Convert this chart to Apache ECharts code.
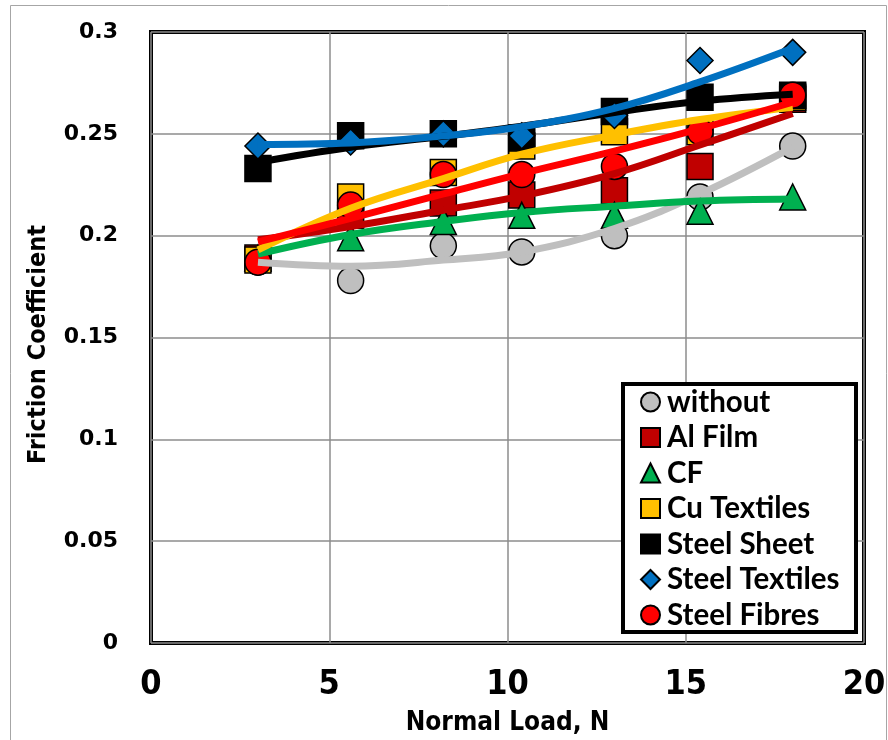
<!DOCTYPE html>
<html>
<head>
<meta charset="utf-8">
<script src="https://cdn.jsdelivr.net/npm/echarts@6/dist/echarts.min.js"></script>
<style>
  html, body { margin: 0; padding: 0; background: #fff; }
  #chart { width: 888px; height: 740px; }
</style>
</head>
<body>
<div id="chart"></div>
<script>
// Normal load (N) at which each friction measurement was taken
const loads = [3, 5.6, 8.2, 10.4, 13, 15.4, 18];

// Measured friction coefficients per interlayer
const withoutVals        = [0.187, 0.178, 0.195, 0.192, 0.200, 0.219, 0.244];
const alFilmVals         = [0.189, 0.210, 0.216, 0.220, 0.222, 0.234, 0.267];
const cfVals             = [0.189, 0.199, 0.207, 0.210, 0.210, 0.212, 0.219];
const cuTextilesVals     = [0.188, 0.219, 0.231, 0.244, 0.251, 0.251, 0.268];
const steelSheetVals     = [0.233, 0.249, 0.250, 0.248, 0.261, 0.268, 0.269];
const steelTextilesVals  = [0.244, 0.246, 0.250, 0.249, 0.259, 0.286, 0.290];
const steelFibresVals    = [0.187, 0.215, 0.230, 0.230, 0.234, 0.251, 0.269];

// Second-order trend curves for each interlayer, at the same loads
const withoutTrend       = [0.187, 0.185, 0.188, 0.192, 0.2035, 0.2205, 0.2435];
const alFilmTrend        = [0.198, 0.2045, 0.2125, 0.2195, 0.2305, 0.2445, 0.260];
const cfTrend            = [0.191, 0.2006, 0.207, 0.2114, 0.2145, 0.217, 0.218];
const cuTextilesTrend    = [0.193, 0.2135, 0.228, 0.240, 0.2495, 0.257, 0.263];
const steelSheetTrend    = [0.236, 0.2434, 0.2488, 0.2537, 0.2605, 0.266, 0.2694];
const steelTextilesTrend = [0.2448, 0.2455, 0.249, 0.2535, 0.2625, 0.2755, 0.292];
const steelFibresTrend   = [0.197, 0.2085, 0.2205, 0.2305, 0.2415, 0.2525, 0.2655];

// Axis tick values
const xTicks = [0, 5, 10, 15, 20];
const yTicks = [0, 0.05, 0.1, 0.15, 0.2, 0.25, 0.3];

const groups = [
  { name: 'without',        color: '#BFBFBF', symbol: 'circle',   vals: withoutVals,       trend: withoutTrend },
  { name: 'Al Film',        color: '#C00000', symbol: 'rect',     vals: alFilmVals,        trend: alFilmTrend },
  { name: 'CF',             color: '#00B050', symbol: 'triangle', vals: cfVals,            trend: cfTrend },
  { name: 'Cu Textiles',    color: '#FFC000', symbol: 'rect',     vals: cuTextilesVals,    trend: cuTextilesTrend },
  { name: 'Steel Sheet',    color: '#000000', symbol: 'rect',     vals: steelSheetVals,    trend: steelSheetTrend },
  { name: 'Steel Textiles', color: '#0070C0', symbol: 'diamond',  vals: steelTextilesVals, trend: steelTextilesTrend },
  { name: 'Steel Fibres',   color: '#FF0000', symbol: 'circle',   vals: steelFibresVals,   trend: steelFibresTrend }
];

const pair = (xs, ys) => xs.map((x, i) => [x, ys[i]]);

const markerSeries = groups.map(g => ({
  type: 'scatter',
  name: g.name,
  data: pair(loads, g.vals),
  symbol: g.symbol,
  symbolSize: 26,
  z: 2,
  itemStyle: { color: g.color, borderColor: '#000', borderWidth: 1.5, opacity: 1 },
  emphasis: { disabled: true }
}));

const trendSeries = groups.map(g => ({
  type: 'line',
  name: g.name + ' trend',
  data: pair(loads, g.trend),
  smooth: 0.4,
  showSymbol: false,
  symbol: 'none',
  z: 3,
  lineStyle: { color: g.color, width: 7 },
  emphasis: { disabled: true }
}));

const narrowFont = "'Liberation Sans Narrow', 'DejaVu Sans Condensed', sans-serif";

const chart = echarts.init(document.getElementById('chart'), null, { renderer: 'canvas' });

chart.setOption({
  backgroundColor: '#fff',
  animation: false,
  grid: {
    left: 151, top: 32, right: 24, bottom: 97,
    outerBoundsMode: 'none',
    show: true, borderColor: '#000', borderWidth: 4, backgroundColor: 'transparent'
  },
  xAxis: {
    type: 'value',
    min: xTicks[0], max: xTicks[xTicks.length - 1], interval: xTicks[1] - xTicks[0],
    name: 'Normal Load, N',
    nameLocation: 'middle',
    nameGap: 67,
    nameTextStyle: { fontFamily: narrowFont, fontWeight: 'bold', fontSize: 26, color: '#000' },
    axisLine: { show: false },
    axisTick: { show: false },
    axisLabel: {
      margin: 25, color: '#000', fontSize: 34, fontWeight: 'bold',
      fontFamily: narrowFont,
      showMinLabel: true, showMaxLabel: true
    },
    splitLine: { show: true, lineStyle: { color: '#8c8c8c', width: 1.5 } }
  },
  yAxis: {
    type: 'value',
    min: yTicks[0], max: yTicks[yTicks.length - 1], interval: yTicks[1] - yTicks[0],
    name: 'Friction Coefficient',
    nameLocation: 'middle',
    nameGap: 100,
    nameTextStyle: {
      fontFamily: narrowFont, fontWeight: 'bold', fontSize: 25, color: '#000',
      padding: [0, 14, 0, 0]
    },
    axisLine: { show: false },
    axisTick: { show: false },
    axisLabel: {
      margin: 33, color: '#000', fontSize: 22, fontWeight: 'bold',
      fontFamily: "'DejaVu Sans', sans-serif",
      showMinLabel: true, showMaxLabel: true
    },
    splitLine: { show: true, lineStyle: { color: '#8c8c8c', width: 1.5 } }
  },
  legend: {
    orient: 'vertical',
    left: 640,
    top: 387,
    z: 10,
    itemWidth: 19,
    itemHeight: 19,
    itemGap: 5.5,
    padding: 0,
    selectedMode: false,
    data: groups.map(g => g.name),
    textStyle: {
      fontFamily: "Lato, 'Open Sans', sans-serif",
      fontWeight: 'bold', fontSize: 29.5, color: '#000',
      padding: [0, 0, 0, 2]
    }
  },
  graphic: [
    {
      type: 'rect', z: 0, silent: true,
      shape: { x: 10.5, y: 5.5, width: 876, height: 740 },
      style: { fill: 'none', stroke: '#a6a6a6', lineWidth: 1 }
    },
    {
      type: 'rect', z: 9, silent: true,
      shape: { x: 623, y: 384, width: 233, height: 248 },
      style: { fill: '#fff', stroke: '#000', lineWidth: 4 }
    }
  ],
  series: markerSeries.concat(trendSeries)
});
</script>
</body>
</html>
